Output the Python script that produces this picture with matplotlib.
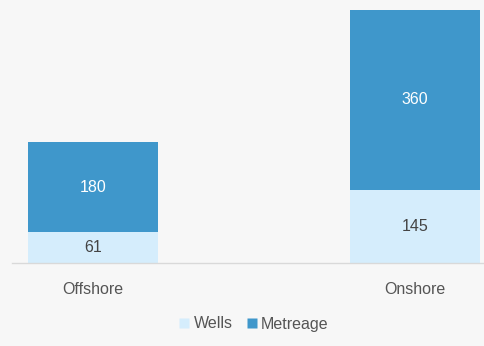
import matplotlib
matplotlib.use("Agg")
import matplotlib.pyplot as plt
from matplotlib.lines import Line2D

categories = ["Offshore", "Onshore"]
wells = [61, 145]
metreage = [180, 360]
series_names = ["Wells", "Metreage"]

c_wells = "#d5edfc"
c_met = "#3f97cb"
bg = "#f7f7f7"

plt.rcParams['font.family'] = ['Liberation Sans', 'DejaVu Sans']

fig = plt.figure(figsize=(4.85, 3.46), dpi=100, facecolor=bg)
ax = fig.add_axes([12/485, (346-263)/346, 473/485, 263/346])
ax.set_facecolor(bg)

x = list(range(len(categories)))
w = 0.404
ax.bar(x, wells, width=w, color=c_wells, edgecolor='none')
ax.bar(x, metreage, width=w, bottom=wells, color=c_met, edgecolor='none')

fs = 11.5
for i in x:
    ax.text(i, wells[i]/2, str(wells[i]), ha='center', va='center', fontsize=fs, color='#444444')
    ax.text(i, wells[i] + metreage[i]/2, str(metreage[i]), ha='center', va='center', fontsize=fs, color='white')

ax.set_xlim(-0.2516, 1.217)
ax.set_ylim(0, 524)
for s in ['top', 'right', 'left']:
    ax.spines[s].set_visible(False)
ax.spines['bottom'].set_color('#d9d9d9')
ax.spines['bottom'].set_linewidth(1)
ax.set_yticks([])
ax.set_xticks(x)
ax.set_xticklabels(categories, fontsize=fs, color='#555555')
ax.tick_params(axis='x', length=0, pad=14)

handles = [Line2D([], [], linestyle='none', marker='s', markersize=6.8, markerfacecolor=c, markeredgecolor='none')
           for c in (c_wells, c_met)]
fig.legend(handles, series_names, loc='center', bbox_to_anchor=(254/485, 1 - 324/346),
           ncol=2, frameon=False, fontsize=fs, handlelength=0.6,
           handletextpad=0.3, columnspacing=0.9, labelcolor='#555555',
           borderpad=0, borderaxespad=0)

fig.savefig("out.png", dpi=100, facecolor=bg)
